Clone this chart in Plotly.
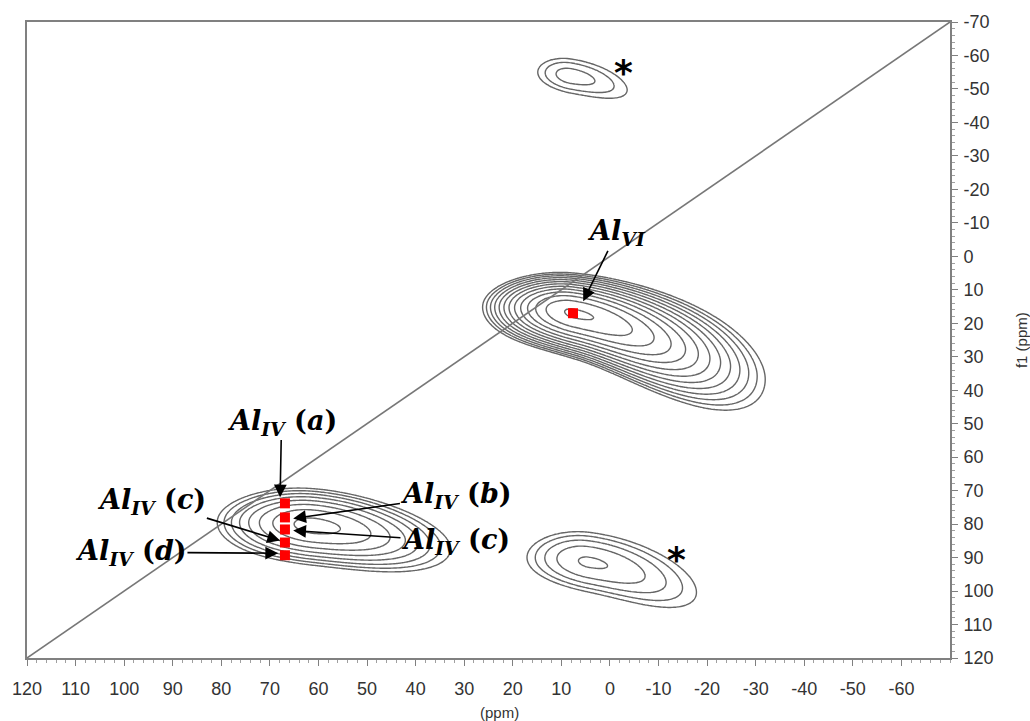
import numpy as np
import plotly.graph_objects as go

# ---- spectral axes (ppm) ----
F2_RANGE = [120, -70]
F1_RANGE = [120, -70]
x_tick_vals = [120, 110, 100, 90, 80, 70, 60, 50, 40, 30, 20, 10, 0, -10, -20, -30, -40, -50, -60]
x_tick_text = ["120", "110", "100", "90", "80", "70", "60", "50", "40", "30", "20", "10", "0",
               "-10", "-20", "-30", "-40", "-50", "-60"]
y_tick_vals = [-70, -60, -50, -40, -30, -20, -10, 0, 10, 20, 30, 40, 50, 60, 70, 80, 90, 100, 110, 120]
y_tick_text = ["-70", "-60", "-50", "-40", "-30", "-20", "-10", "0", "10", "20", "30", "40", "50",
               "60", "70", "80", "90", "100", "110", "120"]

# ---- 2D peaks: position, amplitude and line widths (ppm) ----
peak_names = ["Al_VI", "Al_IV", "SSB_top", "SSB_bottom"]
peak_f2 = [7.4, 61.1, 8.2, 4.3]
peak_f1 = [17.0, 80.4, -53.9, 91.4]
peak_amp = [0.74, 0.139, 0.0263, 0.0466]
width_left = [6.5, 8.8, 5.1, 7.5]
width_right = [13.6, 12.6, 9.0, 13.1]
width_up = [4.15, 4.9, 3.9, 5.3]
width_down = [4.7, 5.3, 3.9, 5.3]
skew = [0.55, 0.28, 0.48, 0.48]
tail_spread = [0.32, 0.05, 0.15, 0.2]

# ---- marked sites ----
site_vi_f2 = [7.6]
site_vi_f1 = [17.0]
site_iv_f2 = [66.9, 66.9, 66.9, 66.9, 66.9]
site_iv_f1 = [73.8, 78.0, 81.6, 85.5, 89.3]

# diagonal f1 = f2
diag_ppm = [120, -70]

# contour levels on log10 intensity
LEVEL_START, LEVEL_END, LEVEL_STEP = -1.95, -0.15, 0.15
SKEW_SOFTNESS = 5.0

f2 = np.arange(120, -70.01, -0.4)
f1 = np.arange(-70, 120.01, 0.4)
X, Y = np.meshgrid(f2, f1)
intensity = np.zeros_like(X)
w = SKEW_SOFTNESS
for i in range(len(peak_names)):
    d = peak_f2[i] - X  # distance towards lower ppm (right in the plot)
    sx = np.where(d > 0, width_right[i], width_left[i])
    soft = w * np.logaddexp(0, d / w) - w * np.log(2)
    yc = peak_f1[i] + skew[i] * soft
    dy = Y - yc
    sy = np.where(dy > 0, width_down[i], width_up[i])
    sy = sy * (1 + tail_spread[i] * soft / width_right[i])
    intensity += peak_amp[i] * np.exp(-0.5 * ((d / sx) ** 2 + (dy / sy) ** 2))
z = np.log10(intensity + 1e-12)

fig = go.Figure()
fig.add_trace(go.Contour(
    x=f2, y=f1, z=z,
    contours=dict(coloring="lines", start=LEVEL_START, end=LEVEL_END, size=LEVEL_STEP),
    colorscale=[[0, "#666666"], [1, "#666666"]],
    line=dict(width=1.4, smoothing=1.0),
    showscale=False, hoverinfo="skip",
))
fig.add_trace(go.Scatter(x=diag_ppm, y=diag_ppm, mode="lines",
                         line=dict(color="#777777", width=1.6), hoverinfo="skip"))
fig.add_trace(go.Scatter(x=site_vi_f2 + site_iv_f2, y=site_vi_f1 + site_iv_f1, mode="markers",
                         marker=dict(symbol="square", size=10, color="#ff0000"), hoverinfo="skip"))

label_font = dict(family="DejaVu Serif", size=27, color="black")


def callout(text, x_text, y_text, x_head, y_head):
    # label centred at (x_text, y_text) with an arrow pointing to (x_head, y_head)
    fig.add_annotation(x=x_head, y=y_head, ax=x_text, ay=y_text, xref="x", yref="y",
                       axref="x", ayref="y", text=text, font=label_font, showarrow=True,
                       arrowhead=2, arrowsize=1.6, arrowwidth=1.6, arrowcolor="black",
                       standoff=0, borderpad=0)


callout("<b><i>Al</i><sub><i>VI</i></sub></b>", -1.4, -7.0, 5.5, 13.4)
callout("<b><i>Al</i><sub><i>IV</i></sub> (<i>a</i>)</b>", 67.6, 49.5, 67.9, 72.0)
callout("<b><i>Al</i><sub><i>IV</i></sub> (<i>b</i>)</b>", 31.6, 71.5, 65.2, 78.3)
callout("<b><i>Al</i><sub><i>IV</i></sub> (<i>c</i>)</b>", 31.8, 85.2, 65.2, 81.9)
callout("<b><i>Al</i><sub><i>IV</i></sub> (<i>c</i>)</b>", 94.3, 73.2, 67.9, 84.9)
callout("<b><i>Al</i><sub><i>IV</i></sub> (<i>d</i>)</b>", 98.6, 88.4, 68.3, 88.7)

# spinning sidebands
for sx_, sy_ in [(-2.7, -55.0), (-13.6, 90.5)]:
    fig.add_annotation(x=sx_, y=sy_, xref="x", yref="y", text="<b>*</b>", showarrow=False,
                       font=dict(family="DejaVu Sans", size=36, color="black"),
                       xanchor="center", yanchor="middle")

tick_font = dict(family="Liberation Sans", size=18, color="#333333")
fig.update_xaxes(range=F2_RANGE, tickmode="array", tickvals=x_tick_vals, ticktext=x_tick_text,
                 ticks="outside", ticklen=6, tickcolor="#808080", tickwidth=1,
                 minor=dict(dtick=2, ticklen=3, tickcolor="#a0a0a0", ticks="outside"),
                 showline=True, linecolor="#808080", linewidth=2, mirror=True,
                 showgrid=False, zeroline=False, tickfont=tick_font, ticklabelstandoff=7)
fig.update_yaxes(range=F1_RANGE, side="right", tickmode="array", tickvals=y_tick_vals,
                 ticktext=y_tick_text, ticks="outside", ticklen=6, tickcolor="#808080", tickwidth=1,
                 minor=dict(dtick=2, ticklen=3, tickcolor="#a0a0a0", ticks="outside"),
                 showline=True, linecolor="#808080", linewidth=2, mirror=True,
                 showgrid=False, zeroline=False, tickfont=tick_font, ticklabelstandoff=2)

fig.add_annotation(x=0.512, y=-0.085, xref="paper", yref="paper", text="(ppm)", showarrow=False,
                   font=dict(family="Liberation Sans", size=15, color="#333333"),
                   xanchor="center", yanchor="middle")
fig.add_annotation(x=1.077, y=0.5, xref="paper", yref="paper", text="f1 (ppm)", showarrow=False,
                   textangle=-90, font=dict(family="Liberation Sans", size=15, color="#333333"),
                   xanchor="center", yanchor="middle")

fig.update_layout(width=1030, height=721, margin=dict(l=27, r=80, t=20, b=63),
                  plot_bgcolor="white", paper_bgcolor="white", showlegend=False)

fig.write_html("out.html", config={"displayModeBar": False})
